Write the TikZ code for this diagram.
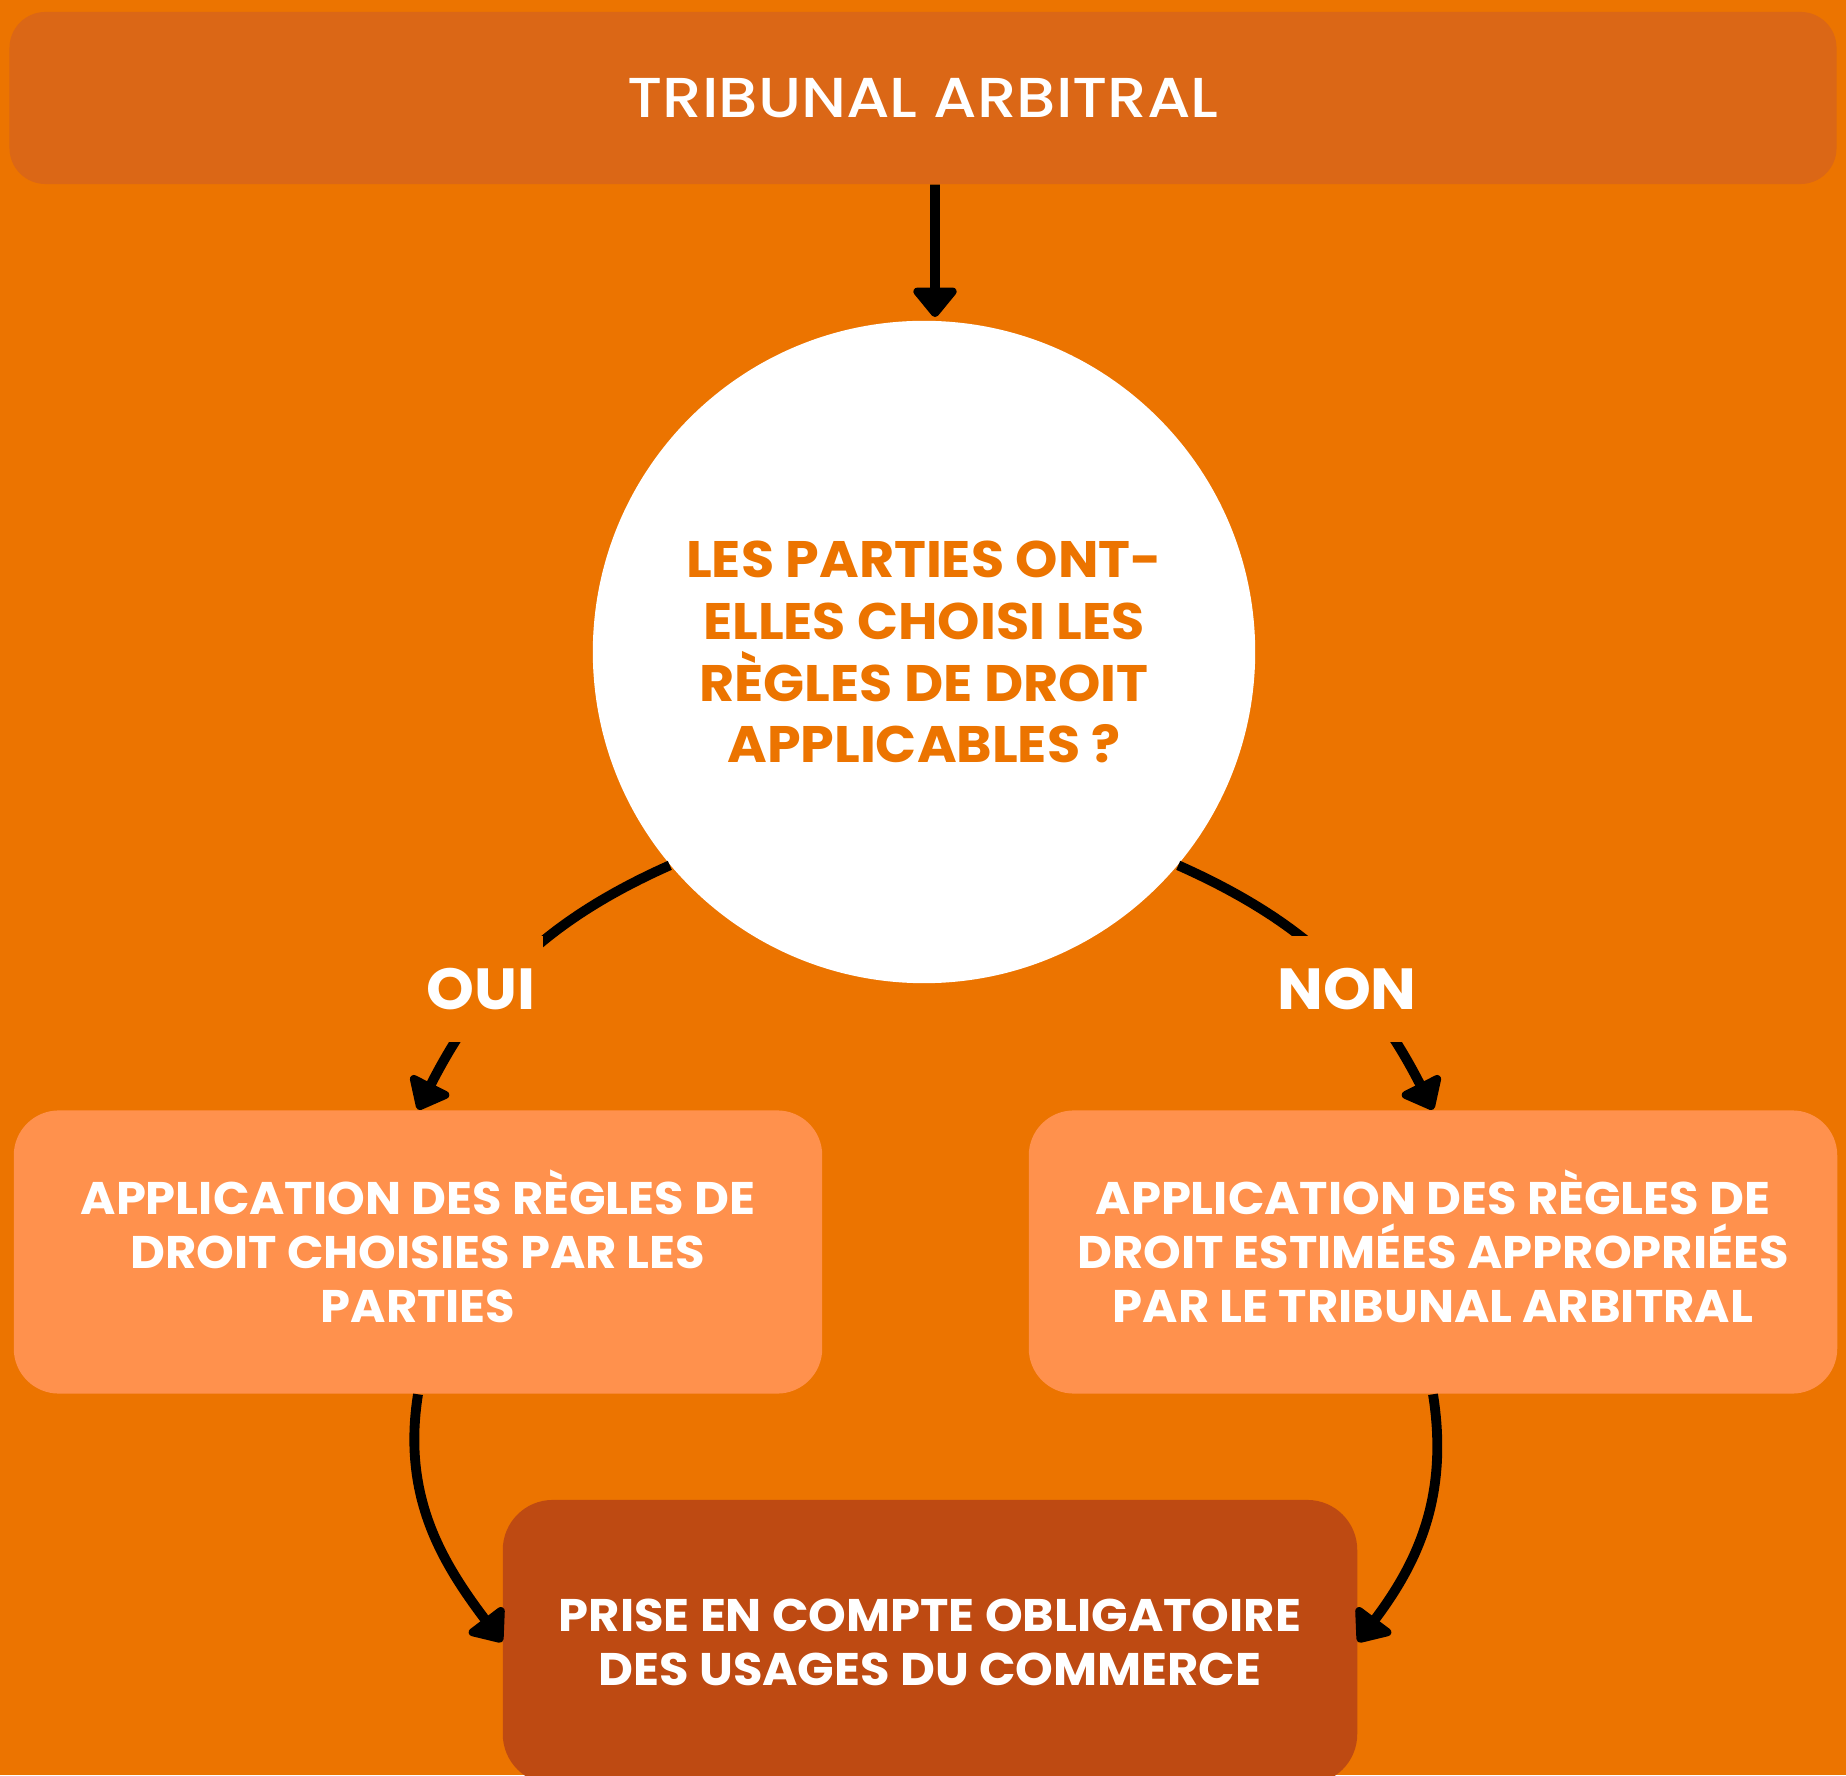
\documentclass[tikz,border=0pt]{standalone}
\usepackage{fontspec}
\setmainfont{Poppins}[BoldFeatures={FakeStretch=1.05}]
\newfontfamily\medfont{Poppins Medium}[FakeStretch=1.11]
\usepackage{tikz}
\usepackage{xcolor}
\usetikzlibrary{positioning, arrows.meta}
\definecolor{arbbg}{RGB}{236, 116, 0}
\definecolor{arbtop}{RGB}{219, 103, 22}
\definecolor{arbside}{RGB}{255, 145, 77}
\definecolor{arbdark}{RGB}{190, 74, 18}
\tikzset{
    arbbox/.style={rectangle, align=center, text=white, inner sep=0pt},
    topbox/.style={arbbox, fill=arbtop, rounded corners=0.36cm, minimum width=18.26cm, minimum height=1.72cm, font=\medfont\fontsize{16}{19}\selectfont},
    questnode/.style={circle, fill=white, text=arbbg, align=center, minimum size=6.62cm, inner sep=0pt, font=\bfseries\fontsize{14.6}{17.6}\selectfont},
    choicebox/.style={arbbox, fill=arbside, rounded corners=0.45cm, minimum width=8.08cm, minimum height=2.83cm, text depth=0.12cm, font=\bfseries\fontsize{13}{15.4}\selectfont},
    usagebox/.style={arbbox, fill=arbdark, rounded corners=0.5cm, minimum width=8.54cm, minimum height=2.84cm, font=\bfseries\fontsize{13}{15.4}\selectfont},
    arrlabel/.style={fill=arbbg, text=white, inner xsep=0.08cm, inner ysep=0pt, minimum height=1.05cm, font=\bfseries\fontsize{16.5}{19}\selectfont},
    arr/.style={line width=2.8pt, -{Triangle[round, length=0.32cm, width=0.5cm]}}
}
\begin{document}
\begin{tikzpicture}[x=0.01cm, y=0.01cm]
    \fill[arbbg] (0,0) rectangle (1846,1775);
    \useasboundingbox (0,0) rectangle (1846,1775);
    % boxes
    \node[topbox] (arb) at (923,1677) {TRIBUNAL ARBITRAL};
    \node[questnode] (quest) at (924,1123) {LES PARTIES ONT-\\ELLES CHOISI LES\\RÈGLES DE DROIT\\APPLICABLES ?};
    \node[choicebox] (choix) at (418,523) {APPLICATION DES RÈGLES DE\\DROIT CHOISIES PAR LES\\PARTIES};
    \node[choicebox] (estim) at (1433,523) {APPLICATION DES RÈGLES DE\\DROIT ESTIMÉES APPROPRIÉES\\PAR LE TRIBUNAL ARBITRAL};
    \node[usagebox] (usage) at (930,133) {PRISE EN COMPTE OBLIGATOIRE\\DES USAGES DU COMMERCE};
    % arrows
    \draw[arr, shorten >=0.03cm] ([xshift=0.12cm]arb.south) -- ([xshift=0.11cm]quest.north);
    \draw[arr] (quest.220) to[out=204, in=63] (choix.north);
    \draw[arr] (quest.320) to[out=336, in=117] (estim.north);
    \node[arrlabel] (oui) at (481,786) {OUI};
    \node[arrlabel] (non) at (1347,786) {NON};
    \draw[arr] (choix.south) to[out=261, in=127] (usage.west);
    \draw[arr] (estim.south) to[out=279, in=53] (usage.east);
\end{tikzpicture}
\end{document}
